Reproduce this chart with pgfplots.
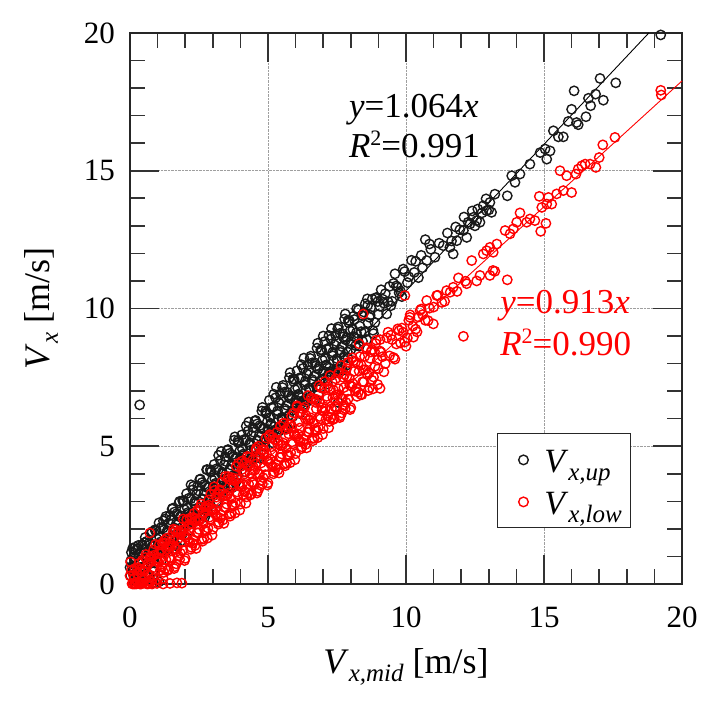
\documentclass[border=0pt]{standalone}
\usepackage{fontspec}
\setmainfont{Liberation Serif}
\usepackage{pgfplots}
\usepackage{pgfplotstable}
\pgfplotsset{compat=1.18}
\newcommand{\sub}[1]{\raisebox{-8pt}{\fontsize{25}{25}\selectfont\itshape #1}}
\newcommand{\sqr}{\raisebox{12pt}{\fontsize{22}{22}\selectfont 2}}

\pgfplotstableread{
x y
0.00 0.60
0.02 0.30
0.03 0.85
0.10 1.30
0.20 1.34
0.05 1.15
0.10 0.41
0.15 0.02
0.20 0.96
0.25 0.22
0.30 1.40
0.35 0.87
0.40 0.23
0.45 1.43
0.50 0.63
0.55 1.69
0.60 0.94
0.65 0.34
0.70 1.49
0.75 0.75
0.80 1.90
0.85 1.40
0.90 0.76
0.95 1.96
1.00 1.16
1.05 2.22
1.10 1.47
1.15 0.87
1.20 2.03
1.25 1.28
1.30 2.45
1.35 1.94
1.40 1.29
1.45 2.49
1.50 1.70
1.55 2.75
1.60 2.00
1.65 1.41
1.70 2.56
1.75 1.81
1.80 3.00
1.85 2.47
1.90 1.82
1.95 3.02
2.00 2.23
2.05 3.28
2.10 2.53
2.15 1.94
2.20 3.09
2.25 2.34
2.30 3.55
2.35 3.00
2.40 2.35
2.45 3.56
2.50 2.76
2.55 3.81
2.60 3.07
2.65 2.47
2.70 3.62
2.75 2.88
2.80 4.15
2.85 3.53
2.90 2.89
2.95 4.09
3.00 3.29
3.05 4.34
3.10 3.60
3.15 3.00
3.20 4.15
3.25 3.41
3.30 4.81
3.35 4.06
3.40 3.42
3.45 4.62
3.50 3.82
3.55 4.88
3.60 4.13
3.65 3.53
3.70 4.69
3.75 3.94
3.80 5.34
3.85 4.60
3.90 3.95
3.95 5.15
4.00 4.36
4.05 5.41
4.10 4.66
4.15 4.07
4.20 5.22
4.25 4.47
4.30 5.88
4.35 5.13
4.40 4.48
4.45 5.68
4.50 4.89
4.55 5.94
4.60 5.19
4.65 4.60
4.70 5.75
4.75 5.00
4.80 6.41
4.85 5.66
4.90 5.01
4.95 6.22
5.00 5.42
5.05 6.67
5.10 5.83
5.15 5.13
5.20 6.43
5.25 5.59
5.30 7.14
5.35 6.29
5.40 5.55
5.45 6.90
5.50 6.05
5.55 7.21
5.60 6.36
5.65 5.66
5.70 6.96
5.75 6.12
5.80 7.67
5.85 6.82
5.90 6.08
5.95 7.43
6.00 6.58
6.05 7.74
6.10 6.89
6.15 6.19
6.20 7.50
6.25 6.65
6.30 8.20
6.35 7.36
6.40 6.61
6.45 7.96
6.50 7.12
6.55 8.27
6.60 7.42
6.65 6.73
6.70 8.03
6.75 7.18
6.80 8.74
6.85 7.89
6.90 7.14
6.95 8.49
7.00 7.65
7.00 9.00
7.05 8.80
7.10 7.95
7.15 7.26
7.20 8.56
7.25 7.71
7.30 9.27
7.35 8.42
7.40 7.67
7.45 9.03
7.50 8.18
7.54 6.59
7.55 9.33
7.60 8.49
7.65 7.79
7.70 9.09
7.75 8.25
7.80 9.80
7.85 8.95
7.90 8.21
7.95 9.56
8.00 8.71
8.10 9.72
8.20 9.12
8.30 8.63
8.40 9.74
8.50 9.14
8.60 10.35
8.70 9.76
8.80 9.21
8.90 10.37
9.00 9.78
9.10 10.68
9.20 10.19
9.30 9.80
9.40 10.80
9.50 10.26
9.60 11.26
9.70 10.77
9.85 10.43
9.95 11.34
10.05 10.94
10.20 11.75
10.30 11.31
10.45 11.12
10.55 11.93
10.70 12.50
10.75 11.74
10.90 12.15
11.05 11.86
11.20 12.37
11.35 12.28
11.50 12.74
11.65 12.45
11.80 12.96
11.95 12.86
12.10 13.32
12.25 13.13
12.40 13.54
12.50 13.00
12.60 13.61
12.75 13.47
12.90 13.98
13.00 13.58
11.59 12.22
11.71 11.98
11.84 12.46
12.08 12.83
12.20 12.58
12.32 13.07
12.44 13.31
12.56 13.19
12.68 13.13
12.80 13.73
12.92 13.55
13.04 13.85
13.10 13.49
13.22 14.15
13.67 14.09
13.83 14.82
13.95 14.58
14.13 14.88
14.49 15.24
14.86 15.66
15.04 15.79
15.10 15.42
15.22 15.72
15.34 16.45
15.52 16.23
15.70 16.23
15.88 16.79
16.00 17.23
16.09 17.90
16.18 16.75
16.24 16.67
16.52 16.96
16.61 17.63
16.69 17.36
16.87 17.78
17.03 18.35
17.15 17.56
17.60 18.19
19.23 19.93
0.35 6.50
0.60 0.02
0.85 0.05
1.05 0.08
0.075 0.63
0.175 0.14
0.275 1.29
0.375 0.60
0.475 1.26
0.575 0.36
0.675 1.12
0.775 1.85
0.875 0.98
0.975 1.64
1.075 1.69
1.175 1.20
1.275 2.36
1.375 1.66
1.475 2.32
1.575 1.43
1.675 2.18
1.775 2.95
1.875 2.05
1.975 2.70
2.075 2.76
2.175 2.26
2.275 3.42
2.375 2.73
2.475 3.38
2.575 2.49
2.675 3.25
2.775 4.15
2.875 3.11
2.975 3.77
3.075 3.82
3.175 3.33
3.275 4.48
3.375 3.79
3.475 4.45
3.575 3.55
3.675 4.31
3.775 5.22
3.875 4.17
3.975 4.83
4.075 4.89
4.175 4.39
4.275 5.55
4.375 4.86
4.475 5.51
4.575 4.62
4.675 5.37
4.775 6.28
4.875 5.24
4.975 5.89
5.075 6.05
5.175 5.46
5.275 6.76
5.375 5.97
5.475 6.68
5.575 5.68
5.675 6.49
5.775 7.49
5.875 6.30
5.975 7.06
6.075 7.11
6.175 6.52
6.275 7.83
6.375 7.03
6.475 7.74
6.575 6.75
6.675 7.55
6.775 8.56
6.875 7.37
6.975 8.12
7.075 8.18
7.175 7.58
7.275 8.89
7.375 8.10
7.475 8.80
7.575 7.81
7.675 8.62
7.775 9.62
7.875 8.43
7.975 9.19
8.075 9.24
8.175 8.65
8.275 9.95
8.375 9.16
8.475 9.87
8.575 8.87
8.675 9.68
8.775 10.34
8.875 9.49
8.975 10.25
9.15 10.34
9.35 10.25
9.55 10.91
9.75 10.57
9.90 11.43
10.10 11.15
10.35 11.71
10.60 11.48
10.85 12.34
0.125 0.98
0.225 0.39
0.325 0.80
0.425 0.30
0.525 1.50
0.625 0.97
0.725 1.42
0.825 0.48
0.925 1.93
1.025 1.34
1.125 2.05
1.225 1.45
1.325 1.86
1.425 1.37
1.525 2.72
1.625 2.03
1.725 2.49
1.825 1.54
1.925 3.00
2.025 2.40
2.125 3.11
2.225 2.52
2.325 2.92
2.425 2.43
2.525 3.79
2.625 3.09
2.725 3.55
2.825 2.61
2.925 4.06
3.025 3.47
3.125 4.18
3.225 3.58
3.325 3.99
3.425 3.49
3.525 4.85
3.625 4.16
3.725 4.61
3.825 3.67
3.925 5.13
4.025 4.53
4.125 5.24
4.225 4.65
4.325 5.05
4.425 4.56
4.525 5.91
4.625 5.22
4.725 5.68
4.825 4.73
4.925 6.19
5.025 5.60
5.125 6.40
5.225 5.71
5.325 6.17
5.425 5.62
5.525 7.13
5.625 6.29
5.725 6.84
5.825 5.80
5.925 7.35
6.025 6.66
6.125 7.47
6.225 6.77
6.325 7.23
6.425 6.69
6.525 8.19
6.625 7.35
6.725 7.91
6.825 6.86
6.925 8.42
7.025 7.72
7.125 8.53
7.225 7.84
7.325 8.29
7.425 7.75
7.525 9.26
7.625 8.41
7.725 8.97
7.825 7.93
7.925 9.48
8.025 8.79
8.125 9.60
8.225 8.90
8.325 9.36
8.425 8.81
8.525 10.17
8.625 9.48
8.725 10.03
8.825 9.09
8.925 10.40
9.05 10.08
9.25 10.54
9.45 10.10
9.65 10.82
9.80 10.63
0.11 0.47
0.21 1.22
0.31 0.13
0.41 1.14
0.51 0.64
0.61 1.55
0.71 0.31
0.81 1.36
0.91 1.97
1.01 1.07
1.11 1.53
1.21 2.29
1.31 1.19
1.41 2.20
1.51 1.71
1.61 2.61
1.71 1.37
1.81 2.43
1.91 3.03
2.01 2.14
2.11 2.60
2.21 3.60
2.31 2.26
2.41 3.26
2.51 2.77
2.61 3.68
2.71 2.43
2.81 3.49
2.91 4.15
3.01 3.20
3.11 3.66
3.21 4.67
3.31 3.32
3.41 4.33
3.51 3.83
3.61 4.74
3.71 3.50
3.81 4.55
3.91 5.21
4.01 4.27
4.11 4.72
4.21 5.73
4.31 4.39
4.41 5.39
4.51 4.90
4.61 5.81
4.71 4.56
4.81 5.62
4.91 6.27
5.01 5.33
5.11 5.79
5.21 6.89
5.31 5.45
5.41 6.56
5.51 5.96
5.61 6.97
5.71 5.63
5.81 6.73
5.91 7.44
6.01 6.39
6.11 6.85
6.21 7.96
6.31 6.51
6.41 7.62
6.51 7.03
6.61 8.03
6.71 6.69
6.81 7.80
6.91 8.50
7.01 7.46
7.11 7.92
7.21 9.02
7.31 7.58
7.41 8.68
7.51 8.09
7.61 9.10
7.71 7.75
7.81 8.86
7.91 9.57
8.01 8.52
8.11 8.98
8.21 9.99
8.31 8.64
8.41 9.75
8.51 9.15
8.61 10.11
}\upData

\pgfplotstableread{
x y
0.00 0.30
0.02 0.80
0.05 0.50
0.10 0.00
0.15 0.19
0.20 0.02
0.25 0.38
0.30 0.05
0.35 0.52
0.40 0.00
0.45 0.86
0.50 0.16
0.55 0.55
0.60 0.02
0.65 0.74
0.70 0.14
0.72 1.85
0.75 0.88
0.80 0.00
0.85 1.23
0.90 0.52
0.95 0.92
1.00 0.16
1.05 1.11
1.10 0.50
1.15 1.25
1.20 0.20
1.20 0.00
1.25 1.59
1.30 0.89
1.35 1.28
1.40 0.53
1.45 1.47
1.45 0.02
1.50 0.87
1.55 1.62
1.60 0.56
1.65 1.96
1.70 1.25
1.70 0.04
1.75 1.65
1.80 0.89
1.85 1.84
1.88 0.03
1.90 1.23
1.95 1.98
2.00 0.93
2.05 2.32
2.10 1.62
2.15 2.01
2.20 1.26
2.25 2.20
2.30 1.60
2.35 2.35
2.40 1.29
2.45 2.69
2.50 1.98
2.55 2.38
2.60 1.62
2.65 2.57
2.70 1.97
2.75 2.71
2.80 1.66
2.85 3.05
2.90 2.35
2.95 2.74
3.00 1.99
3.05 3.53
3.10 2.53
3.15 2.93
3.20 2.17
3.25 3.42
3.30 2.51
3.35 3.26
3.40 2.20
3.45 3.90
3.50 2.90
3.55 3.29
3.60 2.54
3.65 3.78
3.70 2.88
3.75 3.62
3.80 2.57
3.85 4.27
3.90 3.26
3.95 3.66
4.00 2.90
4.05 4.15
4.10 3.24
4.15 3.99
4.20 2.93
4.25 4.63
4.30 3.63
4.35 4.02
4.40 3.27
4.45 4.51
4.50 3.61
4.55 4.35
4.60 3.30
4.65 5.00
4.70 3.99
4.75 4.39
4.80 3.63
4.85 4.88
4.90 3.97
4.95 4.72
5.00 3.67
5.05 5.36
5.10 4.36
5.15 4.75
5.20 4.00
5.25 5.24
5.30 4.34
5.35 5.08
5.40 4.03
5.45 5.73
5.50 4.72
5.55 5.12
5.60 4.36
5.65 5.61
5.70 4.70
5.75 5.45
5.80 4.40
5.85 6.09
5.90 5.09
5.95 5.48
6.00 4.73
6.05 6.47
6.10 5.27
6.15 5.66
6.20 4.91
6.25 6.36
6.30 5.25
6.35 6.00
6.40 4.94
6.45 6.84
6.50 5.63
6.55 6.03
6.60 5.28
6.65 6.72
6.70 5.62
6.75 6.36
6.80 5.31
6.85 7.20
6.90 6.00
6.95 6.40
7.00 5.64
7.05 7.09
7.10 5.98
7.15 6.73
7.20 5.67
7.25 7.57
7.30 6.36
7.35 6.76
7.40 6.01
7.45 7.45
7.50 6.35
7.55 7.09
7.60 6.04
7.65 7.93
7.70 6.73
7.75 7.13
7.80 6.37
7.85 7.82
7.90 6.71
7.91 8.05
7.95 7.46
8.00 6.40
8.10 8.10
8.20 7.09
8.30 7.73
8.30 8.72
8.40 6.87
8.45 9.80
8.50 8.26
8.60 7.60
8.70 8.19
8.80 7.08
8.90 8.73
9.00 7.82
9.06 7.10
9.10 8.41
9.20 7.70
9.30 8.94
9.40 8.28
9.50 8.87
9.60 8.16
9.70 9.26
9.80 8.75
9.90 9.14
9.96 10.47
10.00 8.63
10.10 9.57
10.14 9.68
10.25 9.36
10.27 8.96
10.40 9.15
10.51 9.93
10.60 9.78
10.75 10.29
10.80 9.56
10.99 9.44
11.00 10.05
11.11 10.47
11.30 10.22
11.47 10.65
11.60 10.59
11.71 10.77
11.85 10.62
12.08 8.99
12.20 10.90
12.38 11.74
12.56 11.00
12.68 11.20
12.80 11.98
12.92 12.10
13.04 12.22
13.04 11.20
13.15 11.38
13.16 12.04
13.22 11.35
13.29 12.34
13.59 12.83
13.67 11.04
13.77 12.71
13.89 12.89
14.01 13.13
14.13 13.47
14.37 13.13
14.49 13.25
14.67 13.19
14.88 12.80
15.07 13.09
14.92 13.67
15.10 13.79
15.28 13.79
14.83 14.07
15.16 14.03
15.46 14.16
15.70 14.28
16.00 14.21
15.58 15.00
15.82 14.82
16.16 14.88
16.24 15.06
16.37 15.18
16.49 15.24
16.67 15.24
16.88 15.12
17.00 15.48
17.13 15.94
17.57 16.21
19.23 17.92
19.25 17.75
0.075 0.01
0.175 0.56
0.275 0.03
0.375 0.44
0.475 0.03
0.575 1.07
0.675 0.01
0.775 1.01
0.875 0.60
0.975 0.02
1.075 0.88
1.175 1.47
1.275 0.56
1.375 1.36
1.475 0.95
1.575 1.99
1.675 0.73
1.775 1.92
1.875 1.51
1.975 0.85
2.075 1.79
2.175 2.39
2.275 1.48
2.375 2.27
2.475 1.86
2.575 2.90
2.675 1.64
2.775 2.83
2.875 2.42
2.975 1.77
3.075 2.71
3.175 3.30
3.275 2.39
3.375 3.18
3.475 2.77
3.575 3.81
3.675 2.56
3.775 3.75
3.875 3.34
3.975 2.68
4.075 3.62
4.175 4.41
4.275 3.30
4.375 4.29
4.475 3.69
4.575 4.93
4.675 3.47
4.775 4.86
4.875 4.25
4.975 3.59
5.075 4.53
5.175 5.32
5.275 4.22
5.375 5.21
5.475 4.60
5.575 5.84
5.675 4.38
5.775 5.77
5.875 5.16
5.975 4.51
6.075 5.45
6.175 6.24
6.275 5.13
6.375 6.12
6.475 5.51
6.575 6.75
6.675 5.29
6.775 6.69
6.875 6.08
6.975 5.42
7.075 6.36
7.175 7.15
7.275 6.04
7.375 7.03
7.475 6.42
7.575 7.67
7.675 6.21
7.775 7.60
7.875 6.99
7.975 6.33
8.075 7.27
8.175 8.06
8.275 6.96
8.375 7.95
8.475 7.34
8.575 8.58
8.675 7.12
8.775 8.51
8.875 7.90
8.975 7.24
9.15 8.25
9.35 9.14
9.55 8.22
9.75 9.20
9.95 8.78
10.15 9.77
10.35 9.25
10.55 9.98
10.85 10.01
11.15 10.48
11.40 10.26
11.90 11.11
12.15 10.99
0.125 0.31
0.225 0.00
0.325 0.75
0.425 0.04
0.525 0.48
0.625 0.00
0.725 0.96
0.825 0.20
0.925 1.44
1.025 0.79
1.125 1.23
1.225 0.42
1.325 1.66
1.425 0.95
1.525 1.39
1.625 0.63
1.725 1.87
1.825 1.12
1.925 2.36
2.025 1.70
2.125 2.14
2.225 1.33
2.325 2.57
2.425 1.86
2.525 2.31
2.625 1.55
2.725 2.79
2.825 2.03
2.925 3.27
3.025 2.61
3.125 3.15
3.225 2.24
3.325 3.69
3.425 2.78
3.525 3.22
3.625 2.46
3.725 3.85
3.825 2.94
3.925 4.38
4.025 3.52
4.125 4.07
4.225 3.16
4.325 4.60
4.425 3.69
4.525 4.13
4.625 3.37
4.725 4.76
4.825 3.86
4.925 5.30
5.025 4.44
5.125 4.98
5.225 4.07
5.325 5.51
5.425 4.60
5.525 5.04
5.625 4.29
5.725 5.68
5.825 4.77
5.925 6.21
6.025 5.35
6.125 5.89
6.225 4.98
6.325 6.42
6.425 5.52
6.525 5.96
6.625 5.20
6.725 6.59
6.825 5.68
6.925 7.12
7.025 6.26
7.125 6.81
7.225 5.90
7.325 7.34
7.425 6.43
7.525 6.87
7.625 6.11
7.725 7.50
7.825 6.59
7.925 8.04
8.025 7.18
8.125 7.72
8.225 6.81
8.325 8.25
8.425 7.34
8.525 7.78
8.625 7.02
8.725 8.42
8.825 7.51
8.925 8.85
9.05 8.46
9.25 8.00
9.45 9.03
9.65 8.71
9.85 9.29
10.05 8.93
10.45 9.69
10.70 9.57
0.16 0.00
0.26 0.59
0.36 0.00
0.46 0.47
0.56 0.96
0.66 0.35
0.76 0.09
0.86 1.04
0.96 0.83
1.06 1.42
1.16 0.61
1.26 1.50
1.36 0.49
1.46 1.38
1.56 1.87
1.66 1.27
1.76 1.01
1.86 1.95
1.96 1.74
2.06 2.33
2.16 1.52
2.26 2.41
2.36 1.40
2.46 2.30
2.56 2.79
2.66 2.18
2.76 1.92
2.86 2.86
2.96 2.65
3.06 3.39
3.16 2.44
3.26 3.38
3.36 2.32
3.46 3.21
3.56 3.90
3.66 3.09
3.76 2.83
3.86 3.82
3.96 3.57
4.06 4.46
4.16 3.35
4.26 4.29
4.36 3.23
4.46 4.12
4.56 4.86
4.66 4.00
4.76 3.75
4.86 4.74
4.96 4.48
5.06 5.42
5.16 4.26
5.26 5.25
5.36 4.14
5.46 5.03
5.56 5.83
5.66 4.92
5.76 4.66
5.86 5.70
5.96 5.39
6.06 6.43
6.16 5.17
6.26 6.17
6.36 5.06
6.46 5.95
6.56 6.74
6.66 5.83
6.76 5.57
6.86 6.61
6.96 6.30
7.06 7.35
7.16 6.09
7.26 7.08
7.36 5.97
7.46 6.86
7.56 7.65
7.66 6.74
7.76 6.48
7.86 7.53
7.96 7.22
8.06 8.21
8.16 7.00
8.26 7.99
8.36 6.88
8.46 7.77
8.56 8.52
8.66 7.66
8.76 7.40
8.86 8.44
8.96 8.13
9.06 8.87
}\lowData

\begin{document}
\begin{tikzpicture}
\useasboundingbox (0,0) rectangle (720pt,706pt);
\begin{axis}[
  at={(130pt,122pt)}, anchor=south west,
  width=552pt, height=551pt, scale only axis,
  xmin=0, xmax=20, ymin=0, ymax=20,
  xtick={0,5,10,15,20}, ytick={0,5,10,15,20},
  minor tick num=4,
  tick align=inside,
  major tick length=29pt, minor tick length=15pt,
  axis line style={line width=1.6pt, black!85},
  tick style={line width=1.6pt, black!80},
  grid=major,
  major grid style={densely dotted, line width=0.9pt, gray!75},
  clip=false,
  /pgf/number format/assume math mode=true,
  ticklabel style={font=\fontsize{31}{31}\selectfont, text=black},
  xticklabel style={inner sep=0pt, anchor=north, yshift=-23pt},
  yticklabel style={inner sep=0pt, anchor=east, xshift=-15pt},
  xlabel={\textit{V}\sub{x,mid} [m/s]},
  ylabel={\textit{V}\sub{x} [m/s]},
  xlabel style={at={(axis description cs:0.5,-0.163)}, anchor=base, inner sep=0pt, font=\fontsize{36}{36}\selectfont},
  ylabel style={at={(axis description cs:-0.145,0.5)}, anchor=base, inner sep=0pt, font=\fontsize{36}{36}\selectfont},
  legend style={at={(axis cs:13.30,5.47)}, anchor=north west, draw=black!85, line width=1.2pt, fill=white,
    font=\fontsize{34}{34}\selectfont, inner xsep=21pt, inner ysep=5pt,
    nodes={inner sep=0pt, anchor=west, text height=34pt, text depth=8pt}},
  legend cell align=left,
  legend image code/.code={\draw[#1, mark size=4.8pt] plot coordinates {(0pt,0pt)};},
]
\addplot[only marks, mark=o, mark size=4.7pt, mark options={line width=1.4pt}, black!90] table {\upData};
\addlegendentry{\hspace*{16pt}\textit{V}\sub{x,up}\hspace*{-12pt}}
\addplot[only marks, mark=o, mark size=4.7pt, mark options={line width=1.4pt}, red] table {\lowData};
\addlegendentry{\hspace*{16pt}\textit{V}\sub{x,low}\hspace*{-12pt}}
\addplot[black, line width=0.9pt, forget plot] coordinates {(0,0) (18.797,20)};
\addplot[red, line width=0.9pt, forget plot] coordinates {(0,0) (20,18.26)};
\node[anchor=base west, inner sep=0pt, font=\fontsize{35}{35}\selectfont] at (axis cs:7.93,16.92) {\textit{y}=1.064\textit{x}};
\node[anchor=base west, inner sep=0pt, font=\fontsize{35}{35}\selectfont] at (axis cs:7.93,15.47) {\textit{R}\sqr=0.991};
\node[anchor=base west, inner sep=0pt, font=\fontsize{35}{35}\selectfont, text=red] at (axis cs:13.41,9.82) {\textit{y}=0.913\textit{x}};
\node[anchor=base west, inner sep=0pt, font=\fontsize{35}{35}\selectfont, text=red] at (axis cs:13.41,8.30) {\textit{R}\sqr=0.990};
\end{axis}
\end{tikzpicture}
\end{document}
